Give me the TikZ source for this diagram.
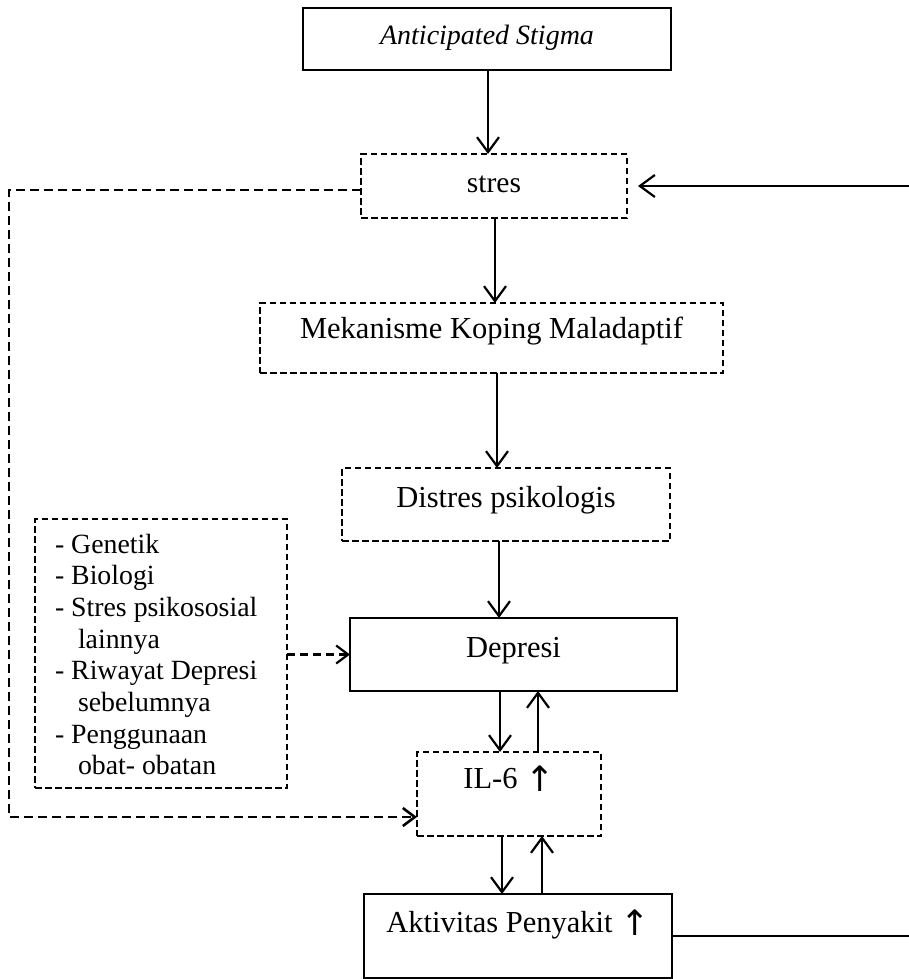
\documentclass[tikz,border=0pt]{standalone}
\usepackage{fontspec}
\setmainfont{Liberation Serif}
\newfontfamily\arrowfont{DejaVu Sans}
\newcommand{\upmark}{\raisebox{-3pt}{\arrowfont\fontsize{35}{35}\selectfont ↑}}
\usetikzlibrary{arrows.meta}
\begin{document}
\begin{tikzpicture}[x=1pt,y=-1pt,
  every node/.style={inner sep=0pt, outer sep=0pt, font=\fontsize{30.5}{36}\selectfont},
  solidbox/.style={draw, line width=2.2pt, anchor=north west},
  dashbox/.style={draw, line width=2pt, dash pattern=on 6.5pt off 3.5pt, anchor=north west},
  flow/.style={line width=2.2pt, -{Straight Barb[length=15pt,width=22pt]}},
  loopline/.style={line width=2.6pt, dash pattern=on 9pt off 5pt},
  looparrow/.style={loopline, -{Straight Barb[length=12pt,width=18pt]}},
]
\useasboundingbox (0,0) rectangle (909,979);

% main chain of boxes
\node[solidbox, minimum width=368pt, text height=37pt, text depth=25pt,
      font=\fontsize{28}{34}\selectfont\itshape] (stigma) at (303,8) {Anticipated Stigma};
\node[dashbox, minimum width=266pt, text height=38pt, text depth=26pt,
      font=\fontsize{29.5}{34}\selectfont] (stres) at (361,154) {stres};
\node[dashbox, minimum width=463pt, text height=35pt, text depth=35pt] (koping) at (260,303) {Mekanisme Koping Maladaptif};
\node[dashbox, minimum width=328pt, text height=39pt, text depth=34pt] (distres) at (342,468) {Distres psikologis};
\node[solidbox, minimum width=327pt, text height=39pt, text depth=34pt] (depresi) at (350,618) {Depresi};
\node[dashbox, minimum width=184pt, text height=36pt, text depth=48pt] (il6) at (417,752) {IL-6~\upmark};
\node[solidbox, minimum width=308pt, text height=38pt, text depth=46pt] (aktivitas) at (364,894) {Aktivitas Penyakit~\upmark};

% box of other factors
\node[dashbox, minimum width=252pt, minimum height=269pt] (faktor) at (35,519) {};
\node[anchor=base west, font=\fontsize{27.8}{31.7}\selectfont] (faktortext) at (55,553)
  {\begin{tabular}[t]{@{}l@{}}
   - Genetik\\
   - Biologi\\
   - Stres psikososial\\
   \hspace{23pt}lainnya\\
   - Riwayat Depresi\\
   \hspace{23pt}sebelumnya\\
   - Penggunaan\\
   \hspace{23pt}obat- obatan
   \end{tabular}};

% column positions of the vertical connectors
\coordinate (c1) at (488,0);
\coordinate (c2) at (495,0);
\coordinate (c3) at (497,0);
\coordinate (c4) at (499,0);
\coordinate (dn1) at (500,0);
\coordinate (up1) at (538,0);
\coordinate (dn2) at (502,0);
\coordinate (up2) at (542,0);

\draw[flow] (stigma.south -| c1) -- (stres.north -| c1);
\draw[flow] (stres.south -| c2) -- (koping.north -| c2);
\draw[flow] (koping.south -| c3) -- (distres.north -| c3);
\draw[flow] (distres.south -| c4) -- (depresi.north -| c4);
\draw[flow] (depresi.south -| dn1) -- (il6.north -| dn1);
\draw[flow] (il6.north -| up1) -- (depresi.south -| up1);
\draw[flow] (il6.south -| dn2) -- (aktivitas.north -| dn2);
\draw[flow] (aktivitas.north -| up2) -- (il6.south -| up2);

% factors feed into depression
\draw[looparrow, line width=2.2pt, dash pattern=on 8pt off 5pt] (faktor.east |- depresi.west) -- (depresi.west);

% stress acts directly on IL-6
\coordinate (lefttop) at (9,190);
\coordinate (leftbot) at (9,817);
\draw[looparrow] (stres.west |- lefttop) -- (lefttop) -- (leftbot) -- (il6.west |- leftbot);

% feedback from disease activity back to stress
\coordinate (fb) at (914,0);
\draw[flow, shorten >=11pt] (aktivitas.east) -- (aktivitas.east -| fb) -- (stres.east -| fb) -- (stres.east);
\end{tikzpicture}
\end{document}
